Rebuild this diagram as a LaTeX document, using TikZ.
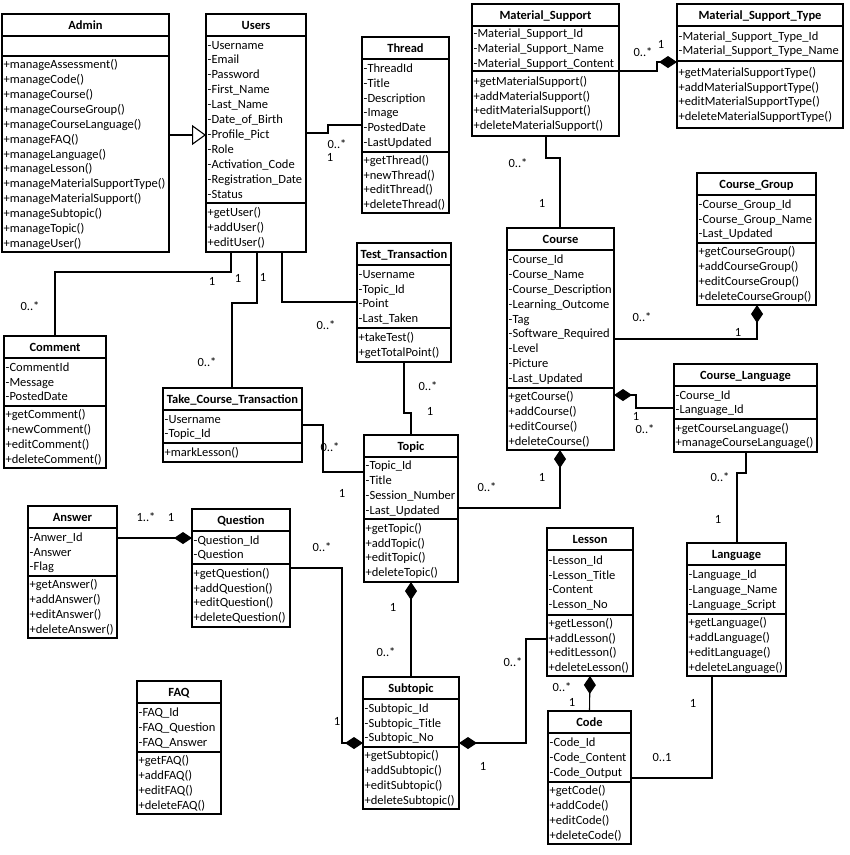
\documentclass[tikz,border=0pt]{standalone}
\usepackage{fontspec}
\setmainfont{Carlito}
\usetikzlibrary{arrows.meta}
\tikzset{
  frame/.style={draw, line width=1.3pt, anchor=north west, inner sep=0pt, outer sep=0pt},
  frameline/.style={line width=1.3pt},
  ttl/.style={anchor=base, inner sep=0pt, font=\fontsize{12.5}{15}\selectfont\bfseries},
  txt/.style={anchor=base west, inner sep=0pt, font=\fontsize{12.5}{15}\selectfont},
  lbl/.style={inner sep=0pt, font=\fontsize{12.5}{15}\selectfont},
  conn/.style={line width=1.1pt},
  comp/.style={conn, -{Diamond[length=18pt, width=12pt]}},
  gen/.style={conn, -{Triangle[open, length=14pt, width=20pt, fill=white]}}
}
% #1 name, #2 x1, #3 y1, #4 x2, #5 attr/method separator, #6 bottom, #7 title
\newcommand\umlbox[7]{%
  \pgfmathsetmacro\umlw{#4-#2}%
  \pgfmathsetmacro\umlh{#6-#3}%
  \node[frame, minimum width=\umlw pt, minimum height=\umlh pt] (#1) at (#2,#3) {};
  \draw[frameline] (#2,#3+22) -- (#4,#3+22) (#2,#5) -- (#4,#5);
  \node[ttl] (#1-title) at ({(#2+#4)/2},{#3+15.5}) {#7};
}
% #1 prefix, #2 x, #3 ytop, #4 ybottom, #5 count, #6 list
\newcommand\umlsec[6]{%
  \foreach \t [count=\i] in {#6}
    \node[txt] (#1\i) at ({#2+1.5},{(#3+#4)/2+(\i-1-(#5-1)/2)*14.9+4}) {\t};
}
\begin{document}
\begin{tikzpicture}[x=1pt,y=-1pt]
\useasboundingbox (0,0) rectangle (850,855);

% ---------- classes ----------
\umlbox{admin}{2}{14}{169}{56}{252}{Admin}
\umlsec{admin-m}{2}{56}{252}{13}{+manageAssessment(),+manageCode(),+manageCourse(),+manageCourseGroup(),+manageCourseLanguage(),+manageFAQ(),+manageLanguage(),+manageLesson(),+manageMaterialSupportType(),+manageMaterialSupport(),+manageSubtopic(),+manageTopic(),+manageUser()}

\umlbox{users}{206}{14}{306}{203}{252}{Users}
\umlsec{users-a}{206}{36}{203}{11}{-Username,-Email,-Password,-First\_Name,-Last\_Name,-Date\_of\_Birth,-Profile\_Pict,-Role,-Activation\_Code,-Registration\_Date,-Status}
\umlsec{users-m}{206}{203}{252}{3}{+getUser(),+addUser(),+editUser()}

\umlbox{thread}{362}{37}{449}{152}{213}{Thread}
\umlsec{thread-a}{362}{59}{152}{6}{-ThreadId,-Title,-Description,-Image,-PostedDate,-LastUpdated}
\umlsec{thread-m}{362}{152}{213}{4}{+getThread(),+newThread(),+editThread(),+deleteThread()}

\umlbox{ms}{472}{4}{619}{71}{136}{Material\_Support}
\umlsec{ms-a}{472}{26}{71}{3}{-Material\_Support\_Id,-Material\_Support\_Name,-Material\_Support\_Content}
\umlsec{ms-m}{472}{71}{136}{4}{+getMaterialSupport(),+addMaterialSupport(),+editMaterialSupport(),+deleteMaterialSupport()}

\umlbox{mst}{677}{4}{843}{61}{128}{Material\_Support\_Type}
\umlsec{mst-a}{677}{26}{61}{2}{-Material\_Support\_Type\_Id,-Material\_Support\_Type\_Name}
\umlsec{mst-m}{677}{61}{128}{4}{+getMaterialSupportType(),+addMaterialSupportType(),+editMaterialSupportType(),+deleteMaterialSupportType()}

\umlbox{cg}{697}{173}{816}{243}{305}{Course\_Group}
\umlsec{cg-a}{697}{195}{243}{3}{-Course\_Group\_Id,-Course\_Group\_Name,-Last\_Updated}
\umlsec{cg-m}{697}{243}{305}{4}{+getCourseGroup(),+addCourseGroup(),+editCourseGroup(),+deleteCourseGroup()}

\umlbox{course}{507}{228}{614}{388}{450}{Course}
\umlsec{course-a}{507}{250}{388}{9}{-Course\_Id,-Course\_Name,-Course\_Description,-Learning\_Outcome,-Tag,-Software\_Required,-Level,-Picture,-Last\_Updated}
\umlsec{course-m}{507}{388}{450}{4}{+getCourse(),+addCourse(),+editCourse(),+deleteCourse()}

\umlbox{cl}{674}{364}{817}{419}{452}{Course\_Language}
\umlsec{cl-a}{674}{386}{419}{2}{-Course\_Id,-Language\_Id}
\umlsec{cl-m}{674}{419}{452}{2}{+getCourseLanguage(),+manageCourseLanguage()}

\umlbox{language}{687}{543}{786}{614}{676}{Language}
\umlsec{language-a}{687}{565}{614}{3}{-Language\_Id,-Language\_Name,-Language\_Script}
\umlsec{language-m}{687}{614}{676}{4}{+getLanguage(),+addLanguage(),+editLanguage(),+deleteLanguage()}

\umlbox{lesson}{547}{528}{633}{615}{676}{Lesson}
\umlsec{lesson-a}{547}{550}{615}{4}{-Lesson\_Id,-Lesson\_Title,-Content,-Lesson\_No}
\umlsec{lesson-m}{547}{615}{676}{4}{+getLesson(),+addLesson(),+editLesson(),+deleteLesson()}

\umlbox{code}{548}{711}{631}{782}{844}{Code}
\umlsec{code-a}{548}{733}{782}{3}{-Code\_Id,-Code\_Content,-Code\_Output}
\umlsec{code-m}{548}{782}{844}{4}{+getCode(),+addCode(),+editCode(),+deleteCode()}

\umlbox{subtopic}{363}{677}{459}{747}{809}{Subtopic}
\umlsec{subtopic-a}{363}{699}{747}{3}{-Subtopic\_Id,-Subtopic\_Title,-Subtopic\_No}
\umlsec{subtopic-m}{363}{747}{809}{4}{+getSubtopic(),+addSubtopic(),+editSubtopic(),+deleteSubtopic()}

\umlbox{topic}{364}{435}{458}{519}{582}{Topic}
\umlsec{topic-a}{364}{457}{519}{4}{-Topic\_Id,-Title,-Session\_Number,-Last\_Updated}
\umlsec{topic-m}{364}{519}{582}{4}{+getTopic(),+addTopic(),+editTopic(),+deleteTopic()}

\umlbox{tt}{357}{243}{451}{328}{362}{Test\_Transaction}
\umlsec{tt-a}{357}{265}{328}{4}{-Username,-Topic\_Id,-Point,-Last\_Taken}
\umlsec{tt-m}{357}{328}{362}{2}{+takeTest(),+getTotalPoint()}

\umlbox{tct}{163}{388}{302}{443}{462}{Take\_Course\_Transaction}
\umlsec{tct-a}{163}{410}{443}{2}{-Username,-Topic\_Id}
\umlsec{tct-m}{163}{443}{462}{1}{+markLesson()}

\umlbox{comment}{4}{336}{106}{406}{468}{Comment}
\umlsec{comment-a}{4}{358}{406}{3}{-CommentId,-Message,-PostedDate}
\umlsec{comment-m}{4}{406}{468}{4}{+getComment(),+newComment(),+editComment(),+deleteComment()}

\umlbox{answer}{28}{506}{117}{576}{638}{Answer}
\umlsec{answer-a}{28}{528}{576}{3}{-Anwer\_Id,-Answer,-Flag}
\umlsec{answer-m}{28}{576}{638}{4}{+getAnswer(),+addAnswer(),+editAnswer(),+deleteAnswer()}

\umlbox{question}{192}{509}{290}{564}{627}{Question}
\umlsec{question-a}{192}{531}{564}{2}{-Question\_Id,-Question}
\umlsec{question-m}{192}{564}{627}{4}{+getQuestion(),+addQuestion(),+editQuestion(),+deleteQuestion()}

\umlbox{faq}{137}{681}{221}{752}{814}{FAQ}
\umlsec{faq-a}{137}{703}{752}{3}{-FAQ\_Id,-FAQ\_Question,-FAQ\_Answer}
\umlsec{faq-m}{137}{752}{814}{4}{+getFAQ(),+addFAQ(),+editFAQ(),+deleteFAQ()}

% ---------- connectors ----------
\draw[gen] ([yshift=-121pt]admin.north east) -- ([yshift=-121pt]users.north west);
\draw[conn] ([yshift=-119pt]users.north east) -- (328,133) |- ([yshift=-88pt]thread.north west);
\draw[conn] ([xshift=25pt]users.south west) |- (55,272) -- (comment.north);
\draw[conn] ([xshift=51pt]users.south west) |- (232,303) -- ([xshift=69pt]tct.north west);
\draw[conn] ([xshift=76pt]users.south west) |- ([yshift=-59pt]tt.north west);
\draw[conn] ([xshift=47pt]tt.south west) |- (411,413) -- (topic.north);
\draw[conn] ([yshift=-37pt]tct.north east) -| (323,472) -- ([yshift=-37pt]topic.north west);
\draw[comp] ([yshift=-73pt]topic.north east) -| ([xshift=53pt]course.south west);
\draw[comp] (subtopic.north) -- (topic.south);
\draw[comp] ([yshift=-59pt]question.north east) -| (342,743) -- ([yshift=-66pt]subtopic.north west);
\draw[comp] ([yshift=-111pt]lesson.north west) -| (526,743) -- ([yshift=-66pt]subtopic.north east);
\draw[comp] (code.north) -- (lesson.south);
\draw[conn] ([yshift=-67pt]code.north east) -| ([xshift=25pt]language.south west);
\draw[conn] ([xshift=72pt]cl.south west) |- (737,473) -- ([xshift=50pt]language.north west);
\draw[comp] ([yshift=-44pt]cl.north west) -| (636,395) -- ([yshift=-167pt]course.north east);
\draw[comp] ([yshift=-111pt]course.north east) -| ([xshift=60pt]cg.south west);
\draw[conn] ([xshift=74pt]ms.south west) |- (560,158) -- ([xshift=53pt]course.north west);
\draw[comp] ([yshift=-67pt]ms.north east) -| (657,62) -- ([yshift=-58pt]mst.north west);
\draw[comp] ([yshift=-32pt]answer.north east) -- ([yshift=-29pt]question.north west);

% ---------- multiplicities ----------
\node[lbl] (m1) at (337,144) {0..*};
\node[lbl] (m2) at (330,157) {1};
\node[lbl] (m3) at (212,281) {1};
\node[lbl] (m4) at (30,306) {0..*};
\node[lbl] (m5) at (238,278) {1};
\node[lbl] (m6) at (207,362) {0..*};
\node[lbl] (m7) at (263,277) {1};
\node[lbl] (m8) at (326,325) {0..*};
\node[lbl] (m9) at (428,386) {0..*};
\node[lbl] (m10) at (430,411) {1};
\node[lbl] (m11) at (330,447) {0..*};
\node[lbl] (m12) at (342,493) {1};
\node[lbl] (m13) at (487,487) {0..*};
\node[lbl] (m14) at (542,477) {1};
\node[lbl] (m15) at (393,607) {1};
\node[lbl] (m16) at (386,652) {0..*};
\node[lbl] (m17) at (322,547) {0..*};
\node[lbl] (m18) at (337,721) {1};
\node[lbl] (m19) at (513,662) {0..*};
\node[lbl] (m20) at (483,766) {1};
\node[lbl] (m21) at (562,687) {0..*};
\node[lbl] (m22) at (572,702) {1};
\node[lbl] (m23) at (662,757) {0..1};
\node[lbl] (m24) at (693,703) {1};
\node[lbl] (m25) at (720,477) {0..*};
\node[lbl] (m26) at (718,519) {1};
\node[lbl] (m27) at (636,416) {1};
\node[lbl] (m28) at (645,429) {0..*};
\node[lbl] (m29) at (642,317) {0..*};
\node[lbl] (m30) at (738,332) {1};
\node[lbl] (m31) at (518,163) {0..*};
\node[lbl] (m32) at (542,203) {1};
\node[lbl] (m33) at (643,52) {0..*};
\node[lbl] (m34) at (661,44) {1};
\node[lbl] (m35) at (146,517) {1..*};
\node[lbl] (m36) at (171,517) {1};
\end{tikzpicture}
\end{document}
